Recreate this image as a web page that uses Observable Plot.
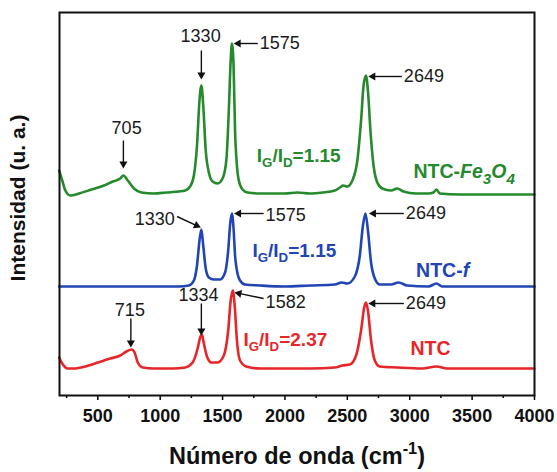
<!DOCTYPE html>
<html>
<head>
<meta charset="utf-8">
<script src="https://cdn.jsdelivr.net/npm/d3@7"></script>
<script src="https://cdn.jsdelivr.net/npm/@observablehq/plot@0.6"></script>
<style>
  html, body { margin: 0; padding: 0; background: white; }
</style>
</head>
<body>
<div id="chart"></div>
<script>
// ---- Spectra (Raman shift in cm^-1, intensity in arbitrary offset units) ----
const feX = [190,215,240,280,350,450,550,620,680,705,740,790,850,950,1050,1150,1200,1240,1270,1295,1315,1330,1345,1365,1390,1420,1460,1500,1530,1550,1565,1575,1588,1600,1615,1630,1660,1700,1800,1900,2000,2100,2200,2300,2400,2440,2465,2500,2540,2580,2610,2630,2649,2665,2685,2710,2740,2780,2850,2900,2950,3050,3150,3190,3215,3240,3400,3600,3800,4000];
const feY = [225,215,205,200,202,206,210,214,217,220,215,207,203,202,203,204,205,209,220,250,295,310,290,245,223,214,212,217,235,285,335,352,330,265,230,215,206,203,202,202,202,203,202,203,205,208,210,209,215,235,275,310,320,305,265,230,213,207,205,207,204,202,202,203,206,202,201,201,201,201];

const fX = [190,400,700,1000,1150,1230,1270,1295,1315,1330,1345,1365,1390,1430,1480,1520,1545,1562,1575,1588,1600,1615,1640,1680,1800,2000,2200,2400,2455,2500,2560,2600,2625,2645,2665,2690,2720,2760,2850,2910,2980,3150,3215,3260,3500,4000];
const fY = [109,109,109,109,109,110,115,130,155,166,150,127,118,116,116,123,145,173,182,167,140,125,115,111,110,109,110,111,113,112,119,140,170,182,165,133,117,111,111,113,110,109,112,109,109,109];

const nX = [190,215,260,320,400,500,600,680,730,770,795,820,860,950,1100,1200,1260,1300,1320,1334,1350,1375,1410,1460,1510,1545,1565,1582,1597,1615,1640,1690,1800,2000,2200,2400,2460,2520,2570,2610,2635,2649,2665,2690,2720,2760,2900,3100,3215,3300,4000];
const nY = [38,32,27,27,29,33,37,40,44,46,43,33,28,27,27,28,33,47,58,61,52,39,33,33,40,65,95,105,90,55,35,29,27,27,27,28,30,31,40,65,88,93,85,55,35,29,28,27,29,27,27];

// ---- Axis ticks ----
const majorTicks = [500,1000,1500,2000,2500,3000,3500,4000];
const minorTicks = [250,750,1250,1750,2250,2750,3250,3750];

// ---- Peak annotations ----
const centerLabels = ["705","1330","715","1334"];
const centerLabelX = [731,1324,757,1307];
const centerLabelY = [267,359,85,100];

const sideLabels = ["1575","2649","1575","2649","1582","2649"];
const sideLabelX = [1782,2937,1829,2953,1829,2953];
const sideLabelY = [352,319,180,182,93,92];

const leftLabels = ["1330"];
const leftLabelX = [1125];
const leftLabelY = [176];

const arrowX1 = [705,1330,1782,2937,1135,1829,2953,765,1330,1829,2953];
const arrowY1 = [255,345,352,319,179,182,182,77,92,97,92];
const arrowX2 = [705,1330,1589,2668,1326,1592,2673,765,1330,1595,2668];
const arrowY2 = [227,316,352,319,168,182,182,48,60,103,92];

// ---- Ratio & sample names ----
const ratioLabels = ["I_G/I_D=1.15","I_G/I_D=1.15","I_G/I_D=2.37"];
const ratioX = [1774,1739,1667];
const ratioY = [240,145,56];

const sampleLabels = ["NTC-Fe3O4","NTC-f","NTC"];
const sampleX = [3030,3051,3006];
const sampleY = [224,125,47];

const colors = ["#248a2c","#2244b4","#e5262a"];

// ---- layout ----
const W = 557, H = 472, mL = 59, mR = 23, mT = 12, mB = 77;
const xDomain = [193, 4000], yDomain = [0, 383];

const toRows = (xs, ys) => xs.map((x, i) => ({x, y: ys[i]}));
const series = [toRows(feX, feY), toRows(fX, fY), toRows(nX, nY)];
const idx = a => a.map((_, i) => i);

// arrow heads: filled triangles whose tip sits on the arrow end
const sx = Plot.scale({x: {domain: xDomain, range: [mL, W - mR]}});
const sy = Plot.scale({y: {domain: yDomain, range: [H - mB, mT]}});
const headR = 3;
const tipOffset = 2 * Math.sqrt((Math.PI * headR * headR) / (3 * Math.sqrt(3)));
const heads = idx(arrowX1).map(i => {
  const p1 = [sx.apply(arrowX1[i]), sy.apply(arrowY1[i])];
  const p2 = [sx.apply(arrowX2[i]), sy.apply(arrowY2[i])];
  const a = Math.atan2(p2[1] - p1[1], p2[0] - p1[0]);
  const cx = p2[0] - tipOffset * Math.cos(a), cy = p2[1] - tipOffset * Math.sin(a);
  return {x1: arrowX1[i], y1: arrowY1[i], x: sx.invert(cx), y: sy.invert(cy), rotate: a * 180 / Math.PI + 90};
});

const plot = Plot.plot({
  width: W,
  height: H,
  marginLeft: mL,
  marginRight: mR,
  marginTop: mT,
  marginBottom: mB,
  x: {domain: xDomain},
  y: {domain: yDomain, axis: null},
  style: {fontFamily: "'Liberation Sans', Arial, sans-serif", background: "white", overflow: "visible"},
  marks: [
    Plot.axisX({ticks: minorTicks, tickSize: 3, tickFormat: () => "", strokeWidth: 1.5, label: null}),
    Plot.axisX({ticks: majorTicks, tickSize: 5, tickPadding: 9, fontSize: 18, fontWeight: "bold", fill: "#111", tickFormat: d => String(d), strokeWidth: 1.5, label: null}),
    ...series.map((s, i) => Plot.line(s, {x: "x", y: "y", stroke: colors[i], strokeWidth: 2.6, curve: "monotone-x"})),
    Plot.frame({stroke: "#111", strokeWidth: 2}),
    Plot.link(heads, {x1: "x1", y1: "y1", x2: "x", y2: "y", stroke: "#111", strokeWidth: 1.4}),
    Plot.dot(heads, {x: "x", y: "y", rotate: "rotate", symbol: "triangle", r: headR, fill: "#111", stroke: "none"}),
    Plot.text(idx(centerLabels), {x: i => centerLabelX[i], y: i => centerLabelY[i], text: i => centerLabels[i], fontSize: 18, fill: "#1a1a1a", textAnchor: "middle"}),
    Plot.text(idx(sideLabels), {x: i => sideLabelX[i], y: i => sideLabelY[i], text: i => sideLabels[i], fontSize: 18, fill: "#1a1a1a", textAnchor: "start", dx: 2}),
    Plot.text(idx(leftLabels), {x: i => leftLabelX[i], y: i => leftLabelY[i], text: i => leftLabels[i], fontSize: 18, fill: "#1a1a1a", textAnchor: "end", dx: -1}),
    Plot.text(idx(ratioLabels), {x: i => ratioX[i], y: i => ratioY[i], text: i => ratioLabels[i], fontSize: 19, fontWeight: "bold", fill: i => colors[i], textAnchor: "start"}),
    Plot.text(idx(sampleLabels), {x: i => sampleX[i], y: i => sampleY[i], text: i => sampleLabels[i], fontSize: 19.5, fontWeight: "bold", fill: i => colors[i], textAnchor: "start"}),
    Plot.text(["Número de onda (cm-1)"], {frameAnchor: "bottom", textAnchor: "middle", lineAnchor: "middle", dy: 61, fontSize: 23.5, fontWeight: "bold", fill: "#111"}),
    Plot.text(["Intensidad (u. a.)"], {frameAnchor: "left", textAnchor: "middle", lineAnchor: "middle", rotate: -90, dx: -41, dy: -6, fontSize: 21, fontWeight: "bold", fill: "#111"})
  ]
});

// ---- rich text: subscripts / superscripts / italics ----
const richMap = {
  "I_G/I_D=1.15": [["I"],["G","sub"],["/I"],["D","sub"],["=1.15"]],
  "I_G/I_D=2.37": [["I"],["G","sub"],["/I"],["D","sub"],["=2.37"]],
  "NTC-Fe3O4": [["NTC-"],["Fe","it"],["3","sub it big"],["O","it"],["4","sub it big"]],
  "NTC-f": [["NTC-"],["f","it"]],
  "Número de onda (cm-1)": [["Número de onda (cm"],["-1","sup"],[")"]]
};
const NS = "http://www.w3.org/2000/svg";
d3.select(plot).selectAll("text").each(function() {
  const segs = richMap[this.textContent];
  if (!segs) return;
  const fs = parseFloat(this.getAttribute("font-size") || this.parentNode.getAttribute("font-size") || 18);
  this.textContent = "";
  let shift = 0;
  for (const [t, kind = ""] of segs) {
    const ts = document.createElementNS(NS, "tspan");
    let target = 0;
    if (kind.includes("sub")) target = 0.3 * fs;
    if (kind.includes("sup")) target = -0.42 * fs;
    if (target - shift !== 0) ts.setAttribute("dy", (target - shift).toFixed(2));
    shift = target;
    if (kind.includes("sub") || kind.includes("sup")) ts.setAttribute("font-size", ((kind.includes("big") ? 0.78 : 0.7) * fs).toFixed(1));
    if (kind.includes("it")) ts.setAttribute("font-style", "italic");
    ts.textContent = t;
    this.appendChild(ts);
  }
});

document.getElementById("chart").appendChild(plot);
</script>
</body>
</html>
